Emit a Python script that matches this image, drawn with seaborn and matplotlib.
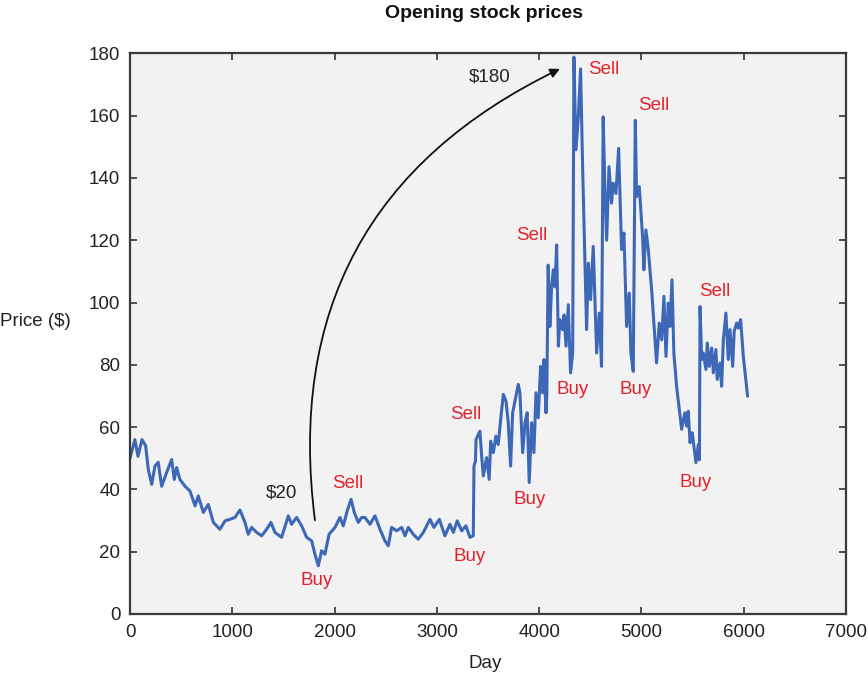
import matplotlib
matplotlib.use("Agg")
import matplotlib.pyplot as plt
import seaborn as sns
import pandas as pd

days = [0, 48, 78, 117, 153, 179, 212, 244, 276, 309, 358, 407, 433, 456, 488, 538, 586, 636, 667, 717,
        765, 815, 879, 929, 977, 1026, 1075, 1124, 1156, 1189, 1238, 1287, 1336, 1378, 1417, 1482, 1548,
        1580, 1629, 1678, 1727, 1776, 1808, 1841, 1873, 1906, 1946, 2004, 2053, 2085, 2128, 2161, 2193,
        2232, 2265, 2297, 2346, 2395, 2444, 2492, 2525, 2558, 2607, 2656, 2688, 2721, 2769, 2818, 2868,
        2933, 2971, 3024, 3079, 3128, 3161, 3199, 3243, 3284, 3324, 3356, 3363, 3377, 3383, 3421, 3438,
        3454, 3486, 3512, 3526, 3552, 3577, 3600, 3627, 3650, 3676, 3698, 3721, 3741, 3780, 3796, 3812,
        3839, 3862, 3883, 3903, 3926, 3949, 3969, 3991, 4014, 4034, 4047, 4067, 4075, 4088, 4105, 4122,
        4138, 4155, 4171, 4188, 4203, 4230, 4243, 4263, 4285, 4307, 4328, 4340, 4360, 4383, 4405, 4425,
        4464, 4481, 4503, 4529, 4562, 4588, 4610, 4626, 4643, 4660, 4683, 4708, 4724, 4751, 4777, 4806,
        4829, 4855, 4881, 4897, 4920, 4940, 4953, 4979, 5011, 5024, 5044, 5067, 5100, 5148, 5174, 5198,
        5220, 5240, 5262, 5279, 5299, 5317, 5344, 5393, 5425, 5442, 5458, 5475, 5497, 5533, 5556, 5567,
        5573, 5589, 5605, 5631, 5644, 5663, 5687, 5703, 5728, 5741, 5768, 5784, 5801, 5826, 5849, 5866,
        5892, 5907, 5931, 5947, 5970, 5996, 6038]
prices = [50, 56, 50.6, 56, 54, 46.4, 41.6, 47.5, 48.7, 41, 45.4, 49.6, 43.2, 47, 43.2, 41, 39.5, 34.7, 37.9, 32.6,
          35.2, 29.4, 27.2, 29.9, 30.4, 31, 33.4, 29.4, 25.6, 27.8, 26.2, 25.1, 27.2, 29.4, 26.2, 24.6, 31.5,
          28.8, 31, 28.3, 24.6, 23.5, 19.2, 15.5, 20.3, 19.2, 25.6, 27.8, 31, 28.3, 33.6, 36.8, 32.6,
          29.4, 31, 31, 28.8, 31.5, 27.2, 23.5, 21.9, 27.8, 26.7, 27.8, 25.1, 27.8, 25.6, 24, 26.2,
          30.4, 27.8, 30.4, 25.1, 28.8, 26.2, 29.9, 26.7, 28.3, 24.6, 25.1, 47.5, 49, 56, 58.7, 50.7,
          44.3, 50.2, 43.2, 55.5, 51.8, 57.1, 54.4, 63.5, 70.5, 68.3, 61.4, 47.5, 64.6, 71, 73.7, 71,
          51.8, 61.4, 64.6, 42.2, 61.4, 51.8, 71, 63, 79.5, 71, 81.7, 64.6, 70, 112, 92.3, 105,
          110.5, 105, 118.5, 86, 94.5, 91.3, 96, 86, 99.3, 77.4, 83.8, 178.8, 149, 159.6, 175, 143.6,
          91.3, 112.6, 100.9, 118, 83.8, 96.6, 79.5, 159.6, 136, 120, 143.6, 131.9, 138.3, 135, 149.5, 117,
          122.3, 92.3, 103, 83.8, 77.9, 158.5, 134, 137.2, 121.2, 110.5, 123.3, 117, 104, 80.6, 93.4, 88,
          102, 82.7, 99.8, 92.3, 107.3, 83.8, 73, 59.3, 64.6, 60.3, 65.1, 55, 58.2, 48.6, 54.4, 49.5,
          98.7, 81.7, 83.8, 78.5, 87, 79.5, 85.4, 77.4, 84.9, 75.3, 80.6, 73.1, 88, 96.6, 81.7, 91.3,
          79.5, 90.8, 93.4, 91.8, 94.5, 82.7, 69.9]

signal_labels = ["Buy", "Sell", "Buy", "Sell", "Buy", "Sell", "Buy", "Sell", "Buy", "Sell", "Buy", "Sell"]
signal_days = [1828, 2131, 3324, 3285, 3910, 3930, 4330, 4633, 4946, 5122, 5533, 5718]
signal_prices = [10.6, 42, 18.3, 64.2, 36.6, 121.6, 72.2, 174.8, 72.2, 163.3, 42.3, 103.6]

x_ticks = [0, 1000, 2000, 3000, 4000, 5000, 6000, 7000]
y_ticks = [0, 20, 40, 60, 80, 100, 120, 140, 160, 180]

sns.set_style("ticks", {"axes.facecolor": "#f2f2f2"})
plt.rcParams["font.family"] = ["Liberation Sans", "DejaVu Sans"]

fig = plt.figure(figsize=(8.68, 6.78), dpi=100)
ax = fig.add_axes([130 / 868, 1 - 614 / 678, (846 - 130) / 868, (614 - 53.3) / 678])
ax.set_facecolor("#f2f2f2")

df = pd.DataFrame({"Day": days, "Price": prices})
sns.lineplot(data=df, x="Day", y="Price", sort=False, color="#3d68b8", linewidth=2.2, ax=ax, estimator=None)

ax.set_xlim(0, 7000)
ax.set_ylim(0, 180)
ax.set_xticks(x_ticks)
ax.set_yticks(y_ticks)
ax.tick_params(direction="in", length=5, width=1.2, color="#333333", labelsize=13.5,
               top=True, right=True, labelcolor="#222222", pad=7)
for s in ax.spines.values():
    s.set_visible(True)
    s.set_color("#3a3a3a")
    s.set_linewidth(1.6)

ax.set_xlabel("")
ax.set_ylabel("")
fig.text(485 / 868, 1 - 663 / 678, "Day", ha="center", va="center", fontsize=13.5, color="#222222")
fig.text(35 / 868, 1 - 321 / 678, "Price ($)", ha="center", va="center", fontsize=13.5, color="#222222")
fig.text(484 / 868, 1 - 14 / 678, "Opening stock prices", ha="center", va="center",
         fontsize=14, fontweight="bold", color="#111111")

for lab, d, p in zip(signal_labels, signal_days, signal_prices):
    ax.text(d, p, lab, ha="center", va="center", fontsize=13.5, color="#e3212b")

ax.text(1486, 38.8, "$20", ha="center", va="center", fontsize=13.5, color="#222222")
ax.text(3519, 172.3, "$180", ha="center", va="center", fontsize=13.5, color="#222222")
ax.annotate("", xy=(4203, 175), xytext=(1808, 30.1),
            arrowprops=dict(arrowstyle="-|>", color="#111111", lw=1.3,
                            connectionstyle="arc3,rad=-0.36", mutation_scale=14,
                            shrinkA=0, shrinkB=0))

fig.savefig("out.png", dpi=100)
